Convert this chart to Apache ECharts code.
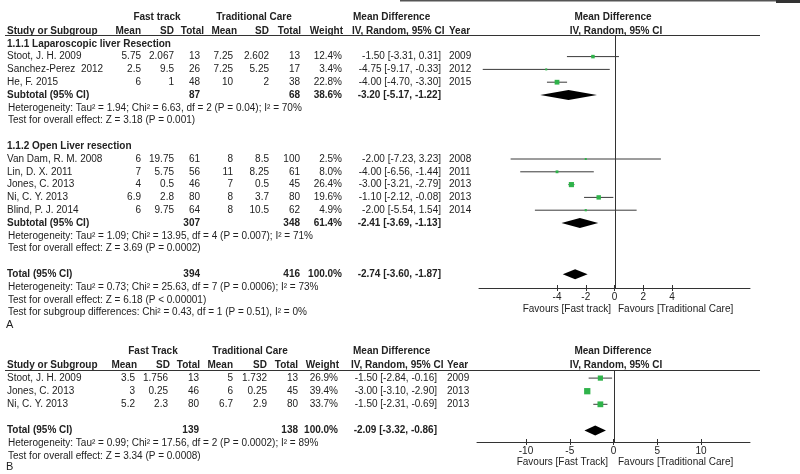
<!DOCTYPE html>
<html><head><meta charset="utf-8">
<script src="https://cdn.jsdelivr.net/npm/echarts@6/dist/echarts.min.js"></script>
<style>html,body{margin:0;padding:0;background:#fff}#c{width:800px;height:474px}</style>
</head><body><div id="c"></div>
<script>
// ===== Panel A data =====
const subgroupNamesA = ['1.1.1 Laparoscopic liver Resection', '1.1.2 Open Liver resection'];
const subgroupSizeA = [3, 5];
const studiesA = ['Stoot, J. H. 2009', 'Sanchez-Perez  2012', 'He, F. 2015', 'Van Dam, R. M. 2008', 'Lin, D. X. 2011', 'Jones, C. 2013', 'Ni, C. Y. 2013', 'Blind, P. J. 2014'];
const ftMeanA = [5.75, 2.5, 6, 6, 7, 4, 6.9, 6];
const ftSDA = [2.067, 9.5, 1, 19.75, 5.75, 0.5, 2.8, 9.75];
const ftNA = [13, 26, 48, 61, 56, 46, 80, 64];
const tcMeanA = [7.25, 7.25, 10, 8, 11, 7, 8, 8];
const tcSDA = [2.602, 5.25, 2, 8.5, 8.25, 0.5, 3.7, 10.5];
const tcNA = [13, 17, 38, 100, 61, 45, 80, 62];
const weightA = [12.4, 3.4, 22.8, 2.5, 8.0, 26.4, 19.6, 4.9];
const mdA = [-1.50, -4.75, -4.00, -2.00, -4.00, -3.00, -1.10, -2.00];
const loA = [-3.31, -9.17, -4.70, -7.23, -6.56, -3.21, -2.12, -5.54];
const hiA = [0.31, -0.33, -3.30, 3.23, -1.44, -2.79, -0.08, 1.54];
const yearA = [2009, 2012, 2015, 2008, 2011, 2013, 2013, 2014];
const subFtNA = [87, 307];
const subTcNA = [68, 348];
const subWeightA = [38.6, 61.4];
const subMdA = [-3.20, -2.41];
const subLoA = [-5.17, -3.69];
const subHiA = [-1.22, -1.13];
const subHetA = ['Heterogeneity: Tau² = 1.94; Chi² = 6.63, df = 2 (P = 0.04); I² = 70%',
                 'Heterogeneity: Tau² = 1.09; Chi² = 13.95, df = 4 (P = 0.007); I² = 71%'];
const subTestA = ['Test for overall effect: Z = 3.18 (P = 0.001)',
                  'Test for overall effect: Z = 3.69 (P = 0.0002)'];
const totalNA = [394, 416];
const totalWeightA = 100.0;
const totalCIA = [-2.74, -3.60, -1.87];
const totalHetA = 'Heterogeneity: Tau² = 0.73; Chi² = 25.63, df = 7 (P = 0.0006); I² = 73%';
const totalTestA = 'Test for overall effect: Z = 6.18 (P < 0.00001)';
const subDiffA = 'Test for subgroup differences: Chi² = 0.43, df = 1 (P = 0.51), I² = 0%';
const ticksA = [-4, -2, 0, 2, 4];
const favoursA = ['Favours [Fast track]', 'Favours [Traditional Care]'];
const groupHeadA = ['Fast track', 'Traditional Care'];

// ===== Panel B data =====
const studiesB = ['Stoot, J. H. 2009', 'Jones, C. 2013', 'Ni, C. Y. 2013'];
const ftMeanB = [3.5, 3, 5.2];
const ftSDB = [1.756, 0.25, 2.3];
const ftNB = [13, 46, 80];
const tcMeanB = [5, 6, 6.7];
const tcSDB = [1.732, 0.25, 2.9];
const tcNB = [13, 45, 80];
const weightB = [26.9, 39.4, 33.7];
const mdB = [-1.50, -3.00, -1.50];
const loB = [-2.84, -3.10, -2.31];
const hiB = [-0.16, -2.90, -0.69];
const yearB = [2009, 2013, 2013];
const totalNB = [139, 138];
const totalWeightB = 100.0;
const totalCIB = [-2.09, -3.32, -0.86];
const totalHetB = 'Heterogeneity: Tau² = 0.99; Chi² = 17.56, df = 2 (P = 0.0002); I² = 89%';
const totalTestB = 'Test for overall effect: Z = 3.34 (P = 0.0008)';
const ticksB = [-10, -5, 0, 5, 10];
const favoursB = ['Favours [Fast Track]', 'Favours [Traditional Care]'];
const groupHeadB = ['Fast Track', 'Traditional Care'];

// ===== layout =====
const FONT = "'Liberation Sans', Arial, sans-serif";
const TXT = '#222';
const A_Y0 = 31, A_DY = 12.8, B_Y0 = 365, B_DY = 13.1;
const A_TOP = 36, A_BOT = 288, B_TOP = 370, B_BOT = 442;
const yA = r => A_Y0 + A_DY * r;
const yB = r => B_Y0 + B_DY * r;
const colA = {ftMean: 141, ftSD: 174, ftN: 200, tcMean: 233, tcSD: 269, tcN: 300, w: 342, ci: 441, year: 449};
const hdrA = {ftMean: 141, ftSD: 174, ftN: 204, tcMean: 237, tcSD: 269, tcN: 301, w: 343, ci: 352, year: 449};
const colB = {ftMean: 135, ftSD: 168, ftN: 199, tcMean: 233, tcSD: 267, tcN: 298, w: 338, ci: 437, year: 447};
const hdrB = {ftMean: 137, ftSD: 170, ftN: 200, tcMean: 233, tcSD: 267, tcN: 298, w: 339, ci: 351, year: 447};

const g = [];
function T(x, y, text, align, bold, size) {
  g.push({type: 'text', x: x, y: y, silent: true, style: {
    text: String(text), fill: TXT, align: align || 'left', verticalAlign: 'middle',
    font: (bold ? 'bold ' : '') + (size || 10) + 'px ' + FONT }});
}
function HL(x1, x2, y, w, c) {
  g.push({type: 'line', silent: true, shape: {x1: x1, y1: y, x2: x2, y2: y}, style: {stroke: c || '#333', lineWidth: w || 1}});
}
const ciText = (m, l, h) => m.toFixed(2) + ' [' + l.toFixed(2) + ', ' + h.toFixed(2) + ']';

function headers(y1, y2, hdr, gh, c1, c2) {
  T(c1, y1, gh[0], 'center', true);
  T(c2, y1, gh[1], 'center', true);
  T(353, y1, 'Mean Difference', 'left', true);
  T(613, y1, 'Mean Difference', 'center', true);
  T(7, y2, 'Study or Subgroup', 'left', true);
  T(hdr.ftMean, y2, 'Mean', 'right', true);
  T(hdr.ftSD, y2, 'SD', 'right', true);
  T(hdr.ftN, y2, 'Total', 'right', true);
  T(hdr.tcMean, y2, 'Mean', 'right', true);
  T(hdr.tcSD, y2, 'SD', 'right', true);
  T(hdr.tcN, y2, 'Total', 'right', true);
  T(hdr.w, y2, 'Weight', 'right', true);
  T(hdr.ci, y2, 'IV, Random, 95% CI', 'left', true);
  T(hdr.year, y2, 'Year', 'left', true);
  T(616, y2, 'IV, Random, 95% CI', 'center', true);
}
function studyRow(y, col, i, s, fm, fs, fn, tm, ts, tn, w, m, l, h, yr) {
  T(7, y, s[i], 'left');
  T(col.ftMean, y, fm[i], 'right');
  T(col.ftSD, y, fs[i], 'right');
  T(col.ftN, y, fn[i], 'right');
  T(col.tcMean, y, tm[i], 'right');
  T(col.tcSD, y, ts[i], 'right');
  T(col.tcN, y, tn[i], 'right');
  T(col.w, y, w[i].toFixed(1) + '%', 'right');
  T(col.ci, y, ciText(m[i], l[i], h[i]), 'right');
  T(col.year, y, yr[i], 'left');
}
function totalRow(y, col, label, n1, n2, w, m, l, h) {
  T(7, y, label, 'left', true);
  T(col.ftN, y, n1, 'right', true);
  T(col.tcN, y, n2, 'right', true);
  T(col.w, y, w.toFixed(1) + '%', 'right', true);
  T(col.ci, y, ciText(m, l, h), 'right', true);
}

// ----- Panel A table -----
HL(400, 800, 0.75, 1.5, '#555');
g.push({type: 'rect', silent: true, shape: {x: 776, y: 0, width: 24, height: 3}, style: {fill: '#333'}});
headers(17, yA(0), hdrA, groupHeadA, 157, 254);
HL(5, 760, 35.5, 1.2, '#333');
const studyDataA = [], diamondDataA = [];
let r = 1, k = 0;
subgroupNamesA.forEach((name, gi) => {
  T(7, yA(r), name, 'left', true); r++;
  for (let j = 0; j < subgroupSizeA[gi]; j++, k++, r++) {
    studyRow(yA(r), colA, k, studiesA, ftMeanA, ftSDA, ftNA, tcMeanA, tcSDA, tcNA, weightA, mdA, loA, hiA, yearA);
    studyDataA.push([mdA[k], loA[k], hiA[k], r, weightA[k]]);
  }
  totalRow(yA(r), colA, 'Subtotal (95% CI)', subFtNA[gi], subTcNA[gi], subWeightA[gi], subMdA[gi], subLoA[gi], subHiA[gi]);
  diamondDataA.push([subMdA[gi], subLoA[gi], subHiA[gi], r]); r++;
  T(8, yA(r), subHetA[gi], 'left'); r++;
  T(8, yA(r), subTestA[gi], 'left'); r++;
  r++;
});
totalRow(yA(r), colA, 'Total (95% CI)', totalNA[0], totalNA[1], totalWeightA, totalCIA[0], totalCIA[1], totalCIA[2]);
diamondDataA.push([totalCIA[0], totalCIA[1], totalCIA[2], r]); r++;
T(8, yA(r), totalHetA, 'left'); r++;
T(8, yA(r), totalTestA, 'left'); r++;
T(8, yA(r), subDiffA, 'left');
T(6, 325, 'A', 'left', false, 11);
T(611, 309, favoursA[0], 'right');
T(618, 309, favoursA[1], 'left');

// ----- Panel B table -----
headers(351, yB(0), hdrB, groupHeadB, 153, 250);
HL(5, 760, 370.5, 1.2, '#333');
const studyDataB = [];
let rb = 1;
studiesB.forEach((s, i) => {
  studyRow(yB(rb), colB, i, studiesB, ftMeanB, ftSDB, ftNB, tcMeanB, tcSDB, tcNB, weightB, mdB, loB, hiB, yearB);
  studyDataB.push([mdB[i], loB[i], hiB[i], rb, weightB[i]]);
  rb++;
});
rb++;
totalRow(yB(rb), colB, 'Total (95% CI)', totalNB[0], totalNB[1], totalWeightB, totalCIB[0], totalCIB[1], totalCIB[2]);
const diamondDataB = [[totalCIB[0], totalCIB[1], totalCIB[2], rb]]; rb++;
T(8, yB(rb), totalHetB, 'left'); rb++;
T(8, yB(rb), totalTestB, 'left');
T(6, 467, 'B', 'left', false, 11);
T(608, 462, favoursB[0], 'right');
T(618, 462, favoursB[1], 'left');

// ----- plot renderers -----
function renderStudy(params, api) {
  const md = api.value(0), lo = api.value(1), hi = api.value(2), row = api.value(3), w = api.value(4);
  const c = api.coord([md, row]), l = api.coord([lo, row]), h = api.coord([hi, row]);
  const s = Math.max(2, Math.sqrt(w));
  return {type: 'group', children: [
    {type: 'line', shape: {x1: l[0], y1: c[1], x2: h[0], y2: c[1]}, style: {stroke: '#3a3a3a', lineWidth: 1}},
    {type: 'rect', shape: {x: c[0] - s / 2, y: c[1] - s / 2, width: s, height: s}, style: {fill: '#2fb34a'}}
  ]};
}
function renderDiamond(params, api) {
  const md = api.value(0), lo = api.value(1), hi = api.value(2), row = api.value(3);
  const c = api.coord([md, row]), l = api.coord([lo, row]), h = api.coord([hi, row]);
  const hh = 5;
  return {type: 'polygon', shape: {points: [[l[0], c[1]], [c[0], c[1] - hh], [h[0], c[1]], [c[0], c[1] + hh]]}, style: {fill: '#000'}};
}
function renderZero(params, api) {
  const a = api.coord([api.value(0), api.value(1)]), b = api.coord([api.value(0), api.value(2)]);
  const x = Math.round(a[0]) + 0.5;
  return {type: 'line', shape: {x1: x, y1: a[1], x2: x, y2: b[1]}, style: {stroke: '#333', lineWidth: 1}};
}
function mainX(grid, min, max, ticks) {
  return {type: 'value', gridIndex: grid, min: min, max: max, position: 'bottom',
    axisLine: {show: true, onZero: false, lineStyle: {color: '#333', width: 1}},
    axisTick: {show: true, customValues: ticks, length: 3, lineStyle: {color: '#333'}},
    axisLabel: {show: true, customValues: ticks, margin: 4, color: TXT, fontSize: 10, fontFamily: FONT},
    splitLine: {show: false}};
}
function innerX(grid, min, max, ticks) {
  return {type: 'value', gridIndex: grid, min: min, max: max, position: 'bottom',
    axisLine: {show: false},
    axisTick: {show: true, inside: true, customValues: ticks, length: 3, lineStyle: {color: '#333'}},
    axisLabel: {show: false}, splitLine: {show: false}};
}
const yMinA = (A_TOP - A_Y0) / A_DY, yMaxA = (A_BOT - A_Y0) / A_DY;
const yMinB = (B_TOP - B_Y0) / B_DY, yMaxB = (B_BOT - B_Y0) / B_DY;

const option = {
  animation: false,
  backgroundColor: '#fff',
  grid: [
    {left: 479, width: 271, top: A_TOP, height: A_BOT - A_TOP},
    {left: 477, width: 273, top: B_TOP, height: B_BOT - B_TOP}
  ],
  xAxis: [mainX(0, -9.43, 9.43, ticksA), innerX(0, -9.43, 9.43, ticksA),
          mainX(1, -15.6, 15.6, ticksB), innerX(1, -15.6, 15.6, ticksB)],
  yAxis: [
    {type: 'value', gridIndex: 0, inverse: true, min: yMinA, max: yMaxA, show: false},
    {type: 'value', gridIndex: 1, inverse: true, min: yMinB, max: yMaxB, show: false}
  ],
  series: [
    {type: 'custom', xAxisIndex: 0, yAxisIndex: 0, renderItem: renderZero, data: [[0, yMinA, yMaxA]],
     encode: {x: 0, y: [1, 2]}, clip: false, z: 1},
    {type: 'custom', xAxisIndex: 2, yAxisIndex: 1, renderItem: renderZero, data: [[0, yMinB, yMaxB]],
     encode: {x: 0, y: [1, 2]}, clip: false, z: 1},
    {type: 'custom', xAxisIndex: 0, yAxisIndex: 0, renderItem: renderStudy, data: studyDataA,
     encode: {x: [0, 1, 2], y: 3}, z: 3},
    {type: 'custom', xAxisIndex: 0, yAxisIndex: 0, renderItem: renderDiamond, data: diamondDataA,
     encode: {x: [0, 1, 2], y: 3}, z: 3},
    {type: 'custom', xAxisIndex: 2, yAxisIndex: 1, renderItem: renderStudy, data: studyDataB,
     encode: {x: [0, 1, 2], y: 3}, z: 3},
    {type: 'custom', xAxisIndex: 2, yAxisIndex: 1, renderItem: renderDiamond, data: diamondDataB,
     encode: {x: [0, 1, 2], y: 3}, z: 3}
  ],
  graphic: g
};
const chart = echarts.init(document.getElementById('c'));
chart.setOption(option);
</script></body></html>
